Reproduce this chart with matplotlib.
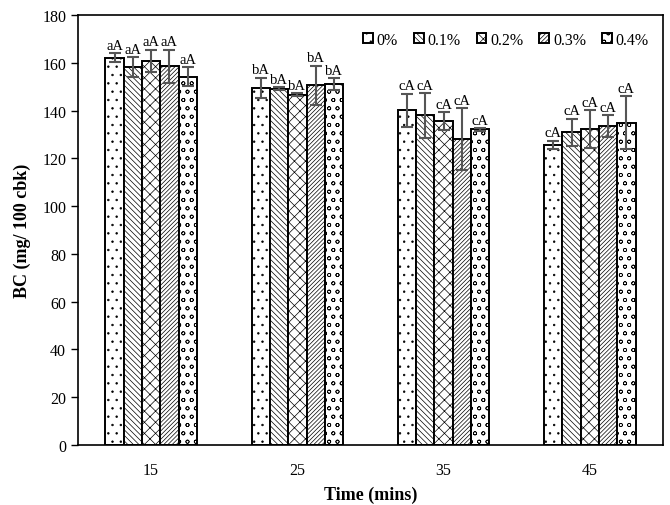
import numpy as np
import matplotlib
matplotlib.use("Agg")
import matplotlib.pyplot as plt

times = ["15", "25", "35", "45"]
series = ["0%", "0.1%", "0.2%", "0.3%", "0.4%"]

bc_means = {
    "0%":   [162.2, 149.6, 140.2, 125.8],
    "0.1%": [158.3, 149.2, 138.0, 131.0],
    "0.2%": [160.8, 146.7, 135.6, 132.2],
    "0.3%": [158.6, 150.6, 128.0, 133.6],
    "0.4%": [154.3, 151.3, 132.2, 135.0],
}
bc_err = {
    "0%":   [2.0, 4.3, 7.0, 1.7],
    "0.1%": [4.0, 0.6, 9.5, 5.7],
    "0.2%": [4.8, 0.6, 3.8, 8.0],
    "0.3%": [7.0, 8.3, 13.0, 4.5],
    "0.4%": [4.0, 2.5, 0.5, 11.0],
}
sig_labels = {
    "0%":   ["aA", "bA", "cA", "cA"],
    "0.1%": ["aA", "bA", "cA", "cA"],
    "0.2%": ["aA", "bA", "cA", "cA"],
    "0.3%": ["aA", "bA", "cA", "cA"],
    "0.4%": ["aA", "bA", "cA", "cA"],
}
hatches = ["..", "\\" * 6, "xxx", "/" * 8, "oo"]

plt.rcParams["font.family"] = ["Liberation Serif", "DejaVu Serif"]
plt.rcParams["hatch.linewidth"] = 0.5

fig = plt.figure(figsize=(6.7, 5.06), dpi=100)
ax = fig.add_axes([0.1164, 0.1186, 0.8732, 0.8494])

x = np.arange(len(times))
width = 0.125
for i, s in enumerate(series):
    pos = x + (i - 2) * width
    ax.bar(pos, bc_means[s], width, color="white", edgecolor="black",
           linewidth=1.4, hatch=hatches[i], label=s, zorder=2)
    ax.errorbar(pos, bc_means[s], yerr=bc_err[s], fmt="none",
                ecolor="#555555", elinewidth=1.5, capsize=4, capthick=1.5,
                zorder=3)
    for p, m, e, t in zip(pos, bc_means[s], bc_err[s], sig_labels[s]):
        ax.text(p, m + e + 0.5, t, ha="center", va="bottom", fontsize=10.5)

ax.set_xlim(-0.5, 3.5)
ax.set_ylim(0, 180)
ax.set_yticks(np.arange(0, 181, 20))
ax.set_xticks(x)
ax.set_xticklabels(times)
ax.tick_params(axis="x", length=0, pad=12, labelsize=11.5)
ax.tick_params(axis="y", direction="out", length=5, width=1, labelsize=11.5)
for sp in ax.spines.values():
    sp.set_linewidth(1.2)

ax.set_xlabel("Time (mins)", fontsize=13, fontweight="bold", labelpad=6)
ax.set_ylabel("BC (mg/ 100 cbk)", fontsize=13, fontweight="bold", labelpad=8)

ax.legend(loc="upper right", ncol=5, frameon=False, fontsize=11.5,
          handlelength=0.6, handleheight=0.6, handletextpad=0.25,
          columnspacing=1.0, bbox_to_anchor=(1.0, 0.995))

fig.savefig("out.png", dpi=100)
